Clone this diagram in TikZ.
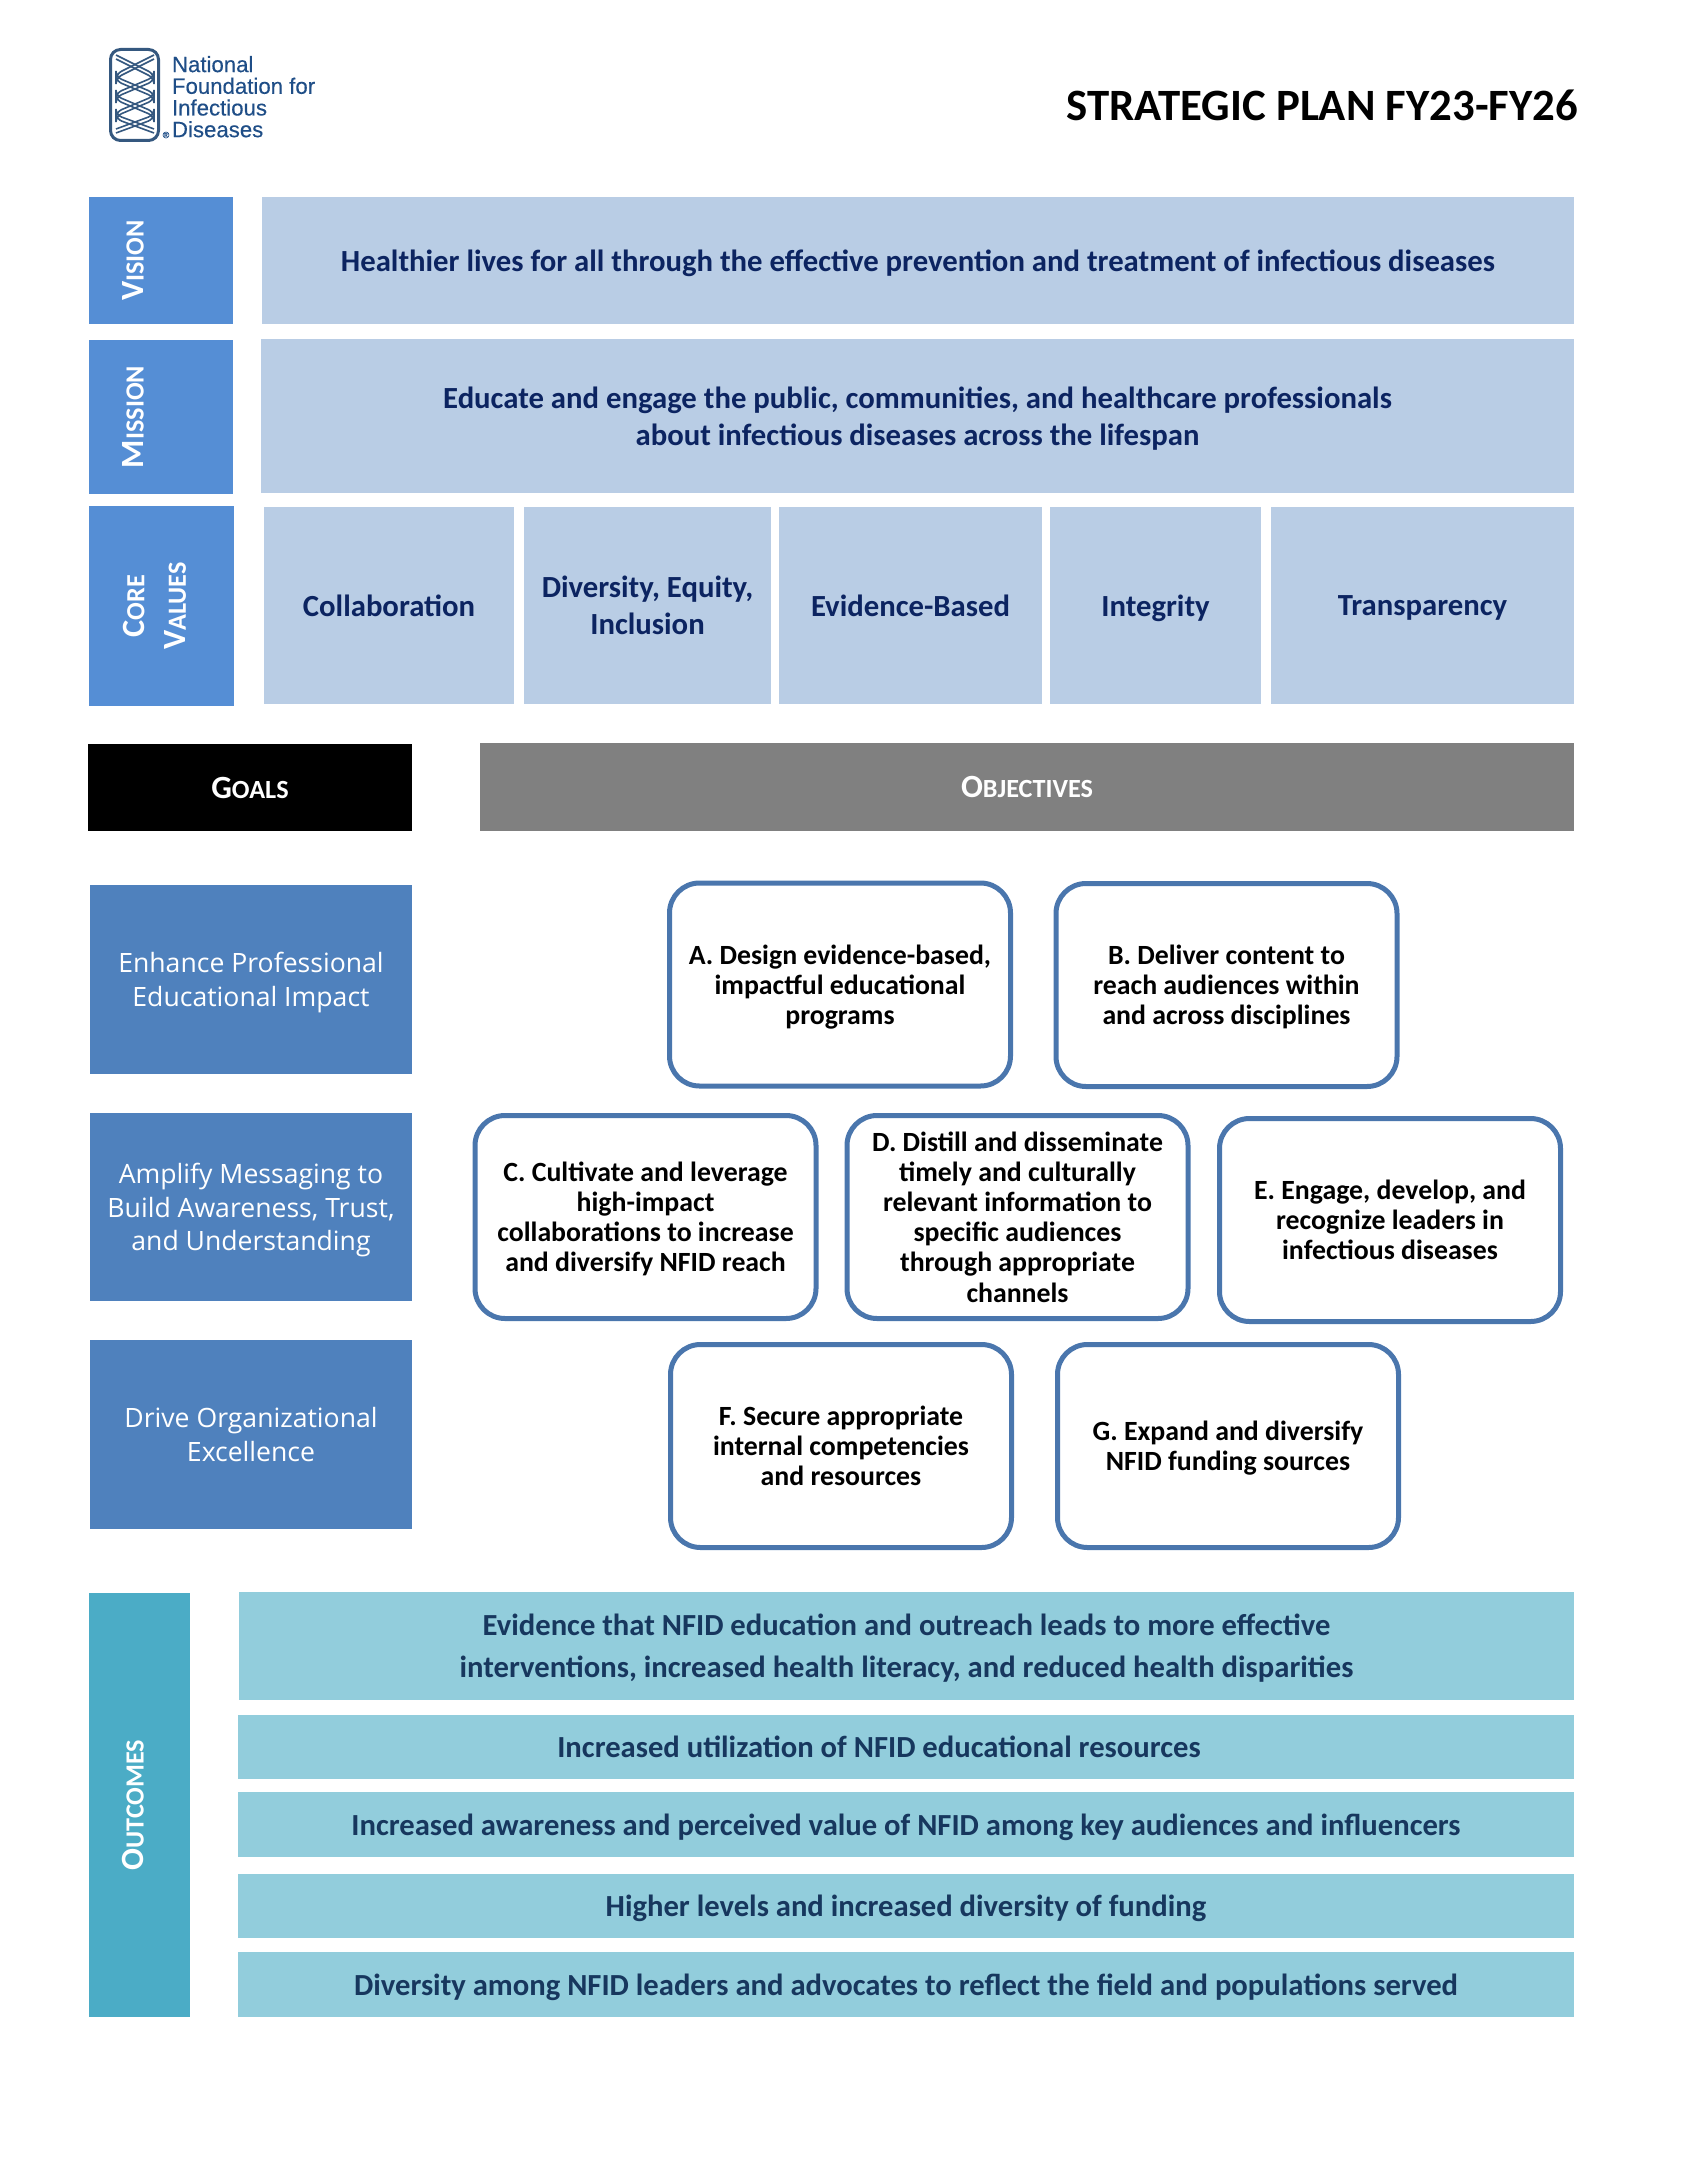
\documentclass[tikz,border=0pt]{standalone}
\usepackage{fontspec}
\setmainfont{Carlito}
\newfontfamily\goalfont{Open Sans}
\newfontfamily\logofont[FakeBold=0.35]{Liberation Sans}
\usepackage{tikz}

\definecolor{labelblue}{HTML}{558ED5}
\definecolor{paleblue}{HTML}{B9CDE5}
\definecolor{navytext}{HTML}{0C2461}
\definecolor{goalblue}{HTML}{4F81BD}
\definecolor{edgeblue}{HTML}{4A76AD}
\definecolor{tealdark}{HTML}{4BACC6}
\definecolor{teallight}{HTML}{92CDDC}
\definecolor{tealtext}{HTML}{17375E}
\definecolor{logoblue}{HTML}{1F4E87}
\definecolor{logoline}{HTML}{35587F}

% capital followed by smaller capitals
\newcommand{\capsmall}[2]{#1{\fontsize{13.1}{20.8}\selectfont #2}}

\tikzset{
    flat/.style={inner sep=0pt, outer sep=0pt, align=center, text depth=0pt},
    sidelabel/.style={flat, text=white, font=\fontsize{16.2}{20.8}\selectfont\bfseries, rotate=90},
    palebox/.style={flat, fill=paleblue, text=navytext, font=\fontsize{15.36}{18.7}\selectfont\bfseries},
    goalbox/.style={flat, fill=goalblue, text=white, font=\fontsize{13.3}{16.7}\selectfont\goalfont, minimum width=161pt},
    objbox/.style={flat, draw=edgeblue, line width=2.5pt, rounded corners=15pt, fill=white, text=black,
        minimum width=170.5pt, minimum height=101.5pt, font=\fontsize{13.9}{15.05}\selectfont\bfseries},
    headbox/.style={flat, text=white, font=\fontsize{16.2}{18.7}\selectfont\bfseries},
    tealbox/.style={flat, fill=teallight, text=tealtext, font=\fontsize{15.32}{20.8}\selectfont\bfseries},
    strand/.style={draw=logoline, line width=0.8pt, rounded corners=3pt}
}

\begin{document}
\begin{tikzpicture}[x=0.5pt,y=-0.5pt]
    \useasboundingbox (0,0) rectangle (1700,2178);

    % Logo
    \draw[draw=logoline, line width=1.5pt, rounded corners=5pt] (110.5,49.5) rectangle (158.5,140.5);
    \foreach \dy in {0,4} {
        \draw[strand] (116,55+\dy) -- (154,74+\dy) -- (154,77+\dy) -- (116,93+\dy) -- (116,96+\dy) -- (154,112+\dy) -- (154,115+\dy) -- (116,129+\dy);
        \draw[strand] (154,55+\dy) -- (116,74+\dy) -- (116,77+\dy) -- (154,93+\dy) -- (154,96+\dy) -- (116,112+\dy) -- (116,115+\dy) -- (154,129+\dy);
    }
    \node[flat, anchor=north west, text=logoblue, align=left, text depth=, font=\fontsize{11.1}{10.85}\selectfont\logofont] (logotext) at (172,56)
        {National\\Foundation for\\Infectious\\Diseases};
    \node[flat, text=logoblue, font=\fontsize{4.5}{5}\selectfont\logofont] (logomark) at (166,135) {®};

    % Title
    \node[flat, anchor=east, font=\fontsize{22.4}{26}\selectfont\bfseries] (title) at (1578,105) {STRATEGIC PLAN FY23-FY26};

    % Vision and mission
    \node[flat, fill=labelblue, minimum width=72pt, minimum height=63.5pt] (visionbar) at (161,260.5) {};
    \node[sidelabel] (visionlabel) at (133,260.5) {\capsmall{V}{ISION}};
    \node[palebox, minimum width=656pt, minimum height=63.5pt] (vision) at (918,260.5)
        {Healthier lives for all through the effective prevention and treatment of infectious diseases};
    \node[flat, fill=labelblue, minimum width=72pt, minimum height=77pt] (missionbar) at (161,417) {};
    \node[sidelabel] (missionlabel) at (133,417) {\capsmall{M}{ISSION}};
    \node[palebox, minimum width=656.5pt, minimum height=77pt] (mission) at (917.5,416)
        {Educate and engage the public, communities, and healthcare professionals\\about infectious diseases across the lifespan};

    % Core values
    \node[flat, fill=labelblue, minimum width=72.5pt, minimum height=100pt] (corebar) at (161.5,606) {};
    \node[sidelabel] (corelabel) at (154.5,606) {\capsmall{C}{ORE}\\\capsmall{V}{ALUES}};
    \node[palebox, minimum width=125pt, minimum height=98.5pt] (collab) at (389,605.5) {Collaboration};
    \node[palebox, minimum width=123.5pt, minimum height=98.5pt] (dei) at (647.5,605.5) {Diversity, Equity,\\Inclusion};
    \node[palebox, minimum width=131.5pt, minimum height=98.5pt] (evidence) at (910.5,605.5) {Evidence-Based};
    \node[palebox, minimum width=105.5pt, minimum height=98.5pt] (integrity) at (1155.5,605.5) {Integrity};
    \node[palebox, minimum width=151.5pt, minimum height=98.5pt] (transparency) at (1422.5,605.5) {Transparency};

    % Column heads
    \node[headbox, fill=black, minimum width=162pt, minimum height=43.5pt] (goals) at (250,787.5) {\capsmall{G}{OALS}};
    \node[headbox, fill=black!50, minimum width=547pt, minimum height=44pt] (objectives) at (1027,787) {\capsmall{O}{BJECTIVES}};

    % Goals
    \node[goalbox, minimum height=94.5pt] (goalone) at (251,979.5) {Enhance Professional\\Educational Impact};
    \node[goalbox, minimum height=94pt] (goaltwo) at (251,1207) {Amplify Messaging to\\Build Awareness, Trust,\\and Understanding};
    \node[goalbox, minimum height=94.5pt] (goalthree) at (251,1434.5) {Drive Organizational\\Excellence};

    % Objectives
    \node[objbox] (obja) at (840,984.5) {A. Design evidence-based,\\impactful educational\\programs};
    \node[objbox] (objb) at (1226.5,985) {B. Deliver content to\\reach audiences within\\and across disciplines};
    \node[objbox] (objc) at (645.5,1217) {C. Cultivate and leverage\\high-impact\\collaborations to increase\\and diversify NFID reach};
    \node[objbox] (objd) at (1017.5,1217) {D. Distill and disseminate\\timely and culturally\\relevant information to\\specific audiences\\through appropriate\\channels};
    \node[objbox] (obje) at (1390,1220) {E. Engage, develop, and\\recognize leaders in\\infectious diseases};
    \node[objbox] (objf) at (841,1446) {F. Secure appropriate\\internal competencies\\and resources};
    \node[objbox] (objg) at (1228,1446) {G. Expand and diversify\\NFID funding sources};

    % Outcomes
    \node[flat, fill=tealdark, minimum width=50.5pt, minimum height=212pt] (outcomebar) at (139.5,1805) {};
    \node[sidelabel] (outcomelabel) at (133,1805) {\capsmall{O}{UTCOMES}};
    \node[tealbox, minimum width=667.5pt, minimum height=54pt] (outone) at (906.5,1646)
        {Evidence that NFID education and outreach leads to more effective\\interventions, increased health literacy, and reduced health disparities};
    \node[tealbox, minimum width=668pt, minimum height=32pt] (outtwo) at (906,1747) {\hspace*{-27pt}Increased utilization of NFID educational resources};
    \node[tealbox, minimum width=668pt, minimum height=32.5pt] (outthree) at (906,1824.5) {Increased awareness and perceived value of NFID among key audiences and influencers};
    \node[tealbox, minimum width=668pt, minimum height=32pt] (outfour) at (906,1906) {Higher levels and increased diversity of funding};
    \node[tealbox, minimum width=668pt, minimum height=32.5pt] (outfive) at (906,1984.5) {Diversity among NFID leaders and advocates to reflect the field and populations served};
\end{tikzpicture}
\end{document}
